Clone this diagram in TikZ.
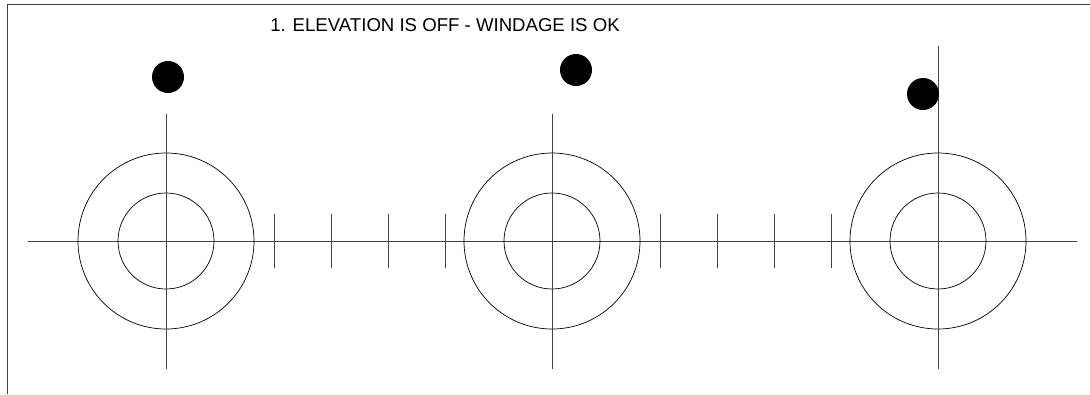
\documentclass[tikz,border=0pt]{standalone}
\usepackage{fontspec}
\setmainfont{Liberation Sans}
\usetikzlibrary{positioning}

\begin{document}
\begin{tikzpicture}[
    x=1pt, y=-1pt,
    reticle/.style={draw=black, line width=0.7pt},
    hairline/.style={black!75, line width=0.9pt},
    impact/.style={circle, fill=black, inner sep=0pt, minimum size=32pt},
    caption/.style={font=\fontsize{18.6}{22}\selectfont, anchor=base},
]
\useasboundingbox (0,0) rectangle (1090,394);

% frame
\draw[hairline] (7,394) -- (7,4) -- (1090,4);

% title
\node[caption] (title) at (445,31) {1. ELEVATION IS OFF - WINDAGE IS OK};

% horizontal axis
\draw[hairline] (28,241) -- (1077,241);

% targets
\foreach \name/\cx/\top in {tgtA/166/114, tgtB/552/114, tgtC/938/46} {
  \coordinate (\name) at (\cx,241);
  \draw[reticle] (\name) circle[radius=88] (\name) circle[radius=48];
  \draw[hairline] (\cx,\top) -- (\cx,369);
}

% ticks between targets
\foreach \tx in {274,331,388,445,660,717,774,831}
  \draw[hairline] (\tx,214) -- (\tx,268);

% shot groups
\node[impact] (hitA) at (168,77) {};
\node[impact] (hitB) at (576,70) {};
\node[impact] (hitC) at (923,94) {};

\end{tikzpicture}
\end{document}
